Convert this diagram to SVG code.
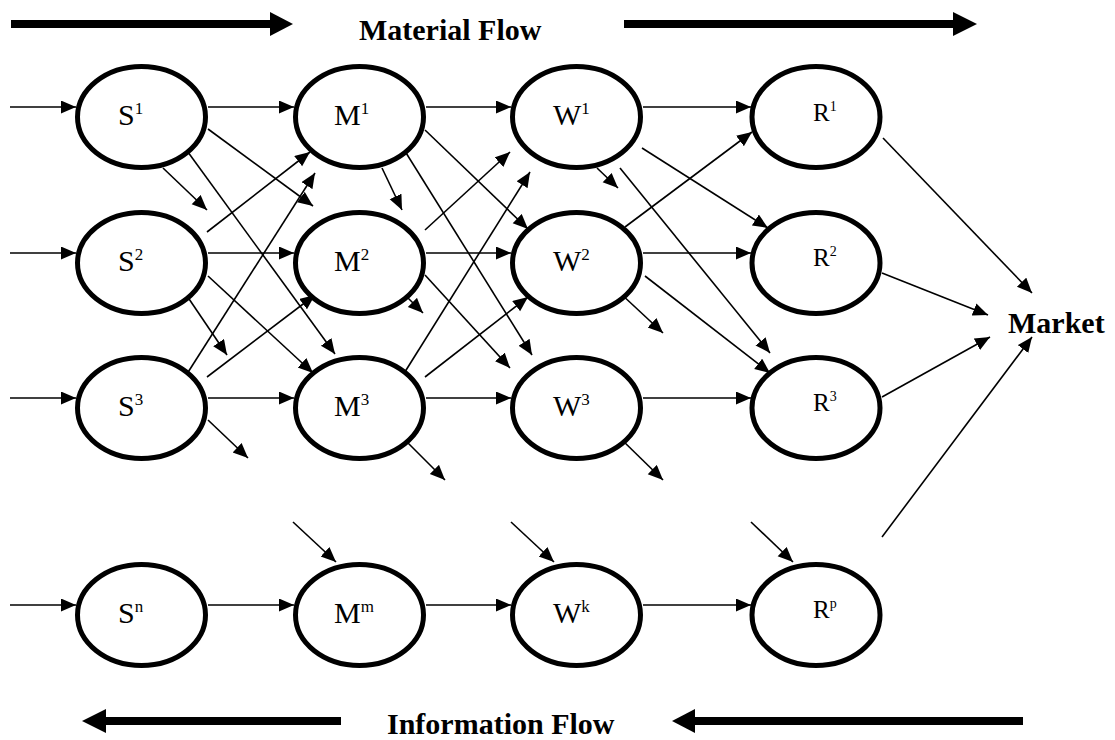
<svg xmlns="http://www.w3.org/2000/svg" width="1115" height="740" viewBox="0 0 1115 740">
<style>
.node ellipse{fill:#fff;stroke:#000;stroke-width:5}
.lbl{font-family:"Liberation Serif","Times New Roman",serif;font-size:30px;fill:#000}
.rl{font-family:"Liberation Serif","Times New Roman",serif;font-size:25px;fill:#000}
.title{font-family:"Liberation Serif","Times New Roman",serif;font-size:30px;font-weight:bold;fill:#000}
#connectors line{stroke:#000;stroke-width:1.6;marker-end:url(#ah)}
.big{fill:#000}
</style>
<defs>
<marker id="ah" markerUnits="userSpaceOnUse" markerWidth="16" markerHeight="14" refX="15" refY="6.5" orient="auto">
<path d="M0,0 L15,6.5 L0,13 z" fill="#000"/>
</marker>
</defs>
<rect width="1115" height="740" fill="#fff"/>

<g id="flow-arrows">
<rect class="big" x="11" y="20" width="262" height="8"/>
<polygon class="big" points="270,12 293,24 270,36"/>
<rect class="big" x="624" y="20" width="332" height="8"/>
<polygon class="big" points="953,12 977,24 953,36"/>
<rect class="big" x="104" y="717" width="237" height="8"/>
<polygon class="big" points="106,709 82,721 106,733"/>
<rect class="big" x="692" y="717" width="331" height="8"/>
<polygon class="big" points="695,709 672,721 695,733"/>
</g>
<text id="material-flow" class="title" x="359" y="40">Material Flow</text>
<text id="information-flow" class="title" x="387" y="734">Information Flow</text>
<text id="market" class="title" x="1008" y="333">Market</text>

<g id="connectors">
<!-- inputs -->
<line x1="10" y1="107" x2="76" y2="107"/>
<line x1="10" y1="253" x2="76" y2="253"/>
<line x1="10" y1="398" x2="76" y2="398"/>
<line x1="10" y1="605" x2="76" y2="605"/>
<!-- S to M horizontal -->
<line x1="208" y1="107" x2="294" y2="107"/>
<line x1="208" y1="253" x2="294" y2="253"/>
<line x1="208" y1="398" x2="294" y2="398"/>
<line x1="208" y1="605" x2="294" y2="605"/>
<!-- M to W horizontal -->
<line x1="426" y1="107" x2="511" y2="107"/>
<line x1="426" y1="253" x2="511" y2="253"/>
<line x1="426" y1="398" x2="511" y2="398"/>
<line x1="426" y1="605" x2="511" y2="605"/>
<!-- W to R horizontal -->
<line x1="643" y1="107" x2="751" y2="107"/>
<line x1="643" y1="253" x2="751" y2="253"/>
<line x1="643" y1="398" x2="751" y2="398"/>
<line x1="643" y1="605" x2="751" y2="605"/>
<!-- S diagonals -->
<line x1="163" y1="168" x2="207" y2="210"/>
<line x1="208" y1="129" x2="313" y2="206"/>
<line x1="185" y1="148" x2="335" y2="354"/>
<line x1="207" y1="232" x2="310" y2="152"/>
<line x1="185" y1="293" x2="227" y2="355"/>
<line x1="208" y1="276" x2="313" y2="373"/>
<line x1="185" y1="377" x2="315" y2="173"/>
<line x1="207" y1="377" x2="315" y2="295"/>
<line x1="208" y1="420" x2="248" y2="458"/>
<!-- M diagonals -->
<line x1="382" y1="168" x2="402" y2="210"/>
<line x1="425" y1="130" x2="528" y2="229"/>
<line x1="403" y1="148" x2="532" y2="355"/>
<line x1="425" y1="230" x2="510" y2="152"/>
<line x1="403" y1="293" x2="423" y2="313"/>
<line x1="425" y1="275" x2="510" y2="368"/>
<line x1="403" y1="375" x2="530" y2="172"/>
<line x1="425" y1="377" x2="528" y2="297"/>
<line x1="403" y1="438" x2="445" y2="480"/>
<!-- W diagonals -->
<line x1="597" y1="168" x2="618" y2="188"/>
<line x1="642" y1="148" x2="768" y2="228"/>
<line x1="620" y1="168" x2="770" y2="353"/>
<line x1="625" y1="227" x2="752" y2="132"/>
<line x1="620" y1="293" x2="663" y2="333"/>
<line x1="645" y1="276" x2="770" y2="373"/>
<line x1="620" y1="438" x2="663" y2="480"/>
<!-- into bottom row -->
<line x1="293" y1="522" x2="336" y2="562"/>
<line x1="511" y1="522" x2="554" y2="562"/>
<line x1="751" y1="522" x2="793" y2="562"/>
<!-- to market -->
<line x1="883" y1="138" x2="1032" y2="293"/>
<line x1="882" y1="273" x2="988" y2="315"/>
<line x1="882" y1="397" x2="990" y2="337"/>
<line x1="882" y1="537" x2="1032" y2="337"/>
</g>

<g id="S1" class="node"><ellipse cx="141.5" cy="117" rx="64" ry="50.5"/><text class="lbl" x="118" y="125">S<tspan dy="-11" font-size="17">1</tspan></text></g>
<g id="S2" class="node"><ellipse cx="141.5" cy="263" rx="64" ry="50.5"/><text class="lbl" x="118" y="271">S<tspan dy="-11" font-size="17">2</tspan></text></g>
<g id="S3" class="node"><ellipse cx="141.5" cy="408" rx="64" ry="50.5"/><text class="lbl" x="118" y="416">S<tspan dy="-11" font-size="17">3</tspan></text></g>
<g id="Sn" class="node"><ellipse cx="141.5" cy="615" rx="64" ry="50.5"/><text class="lbl" x="118" y="623">S<tspan dy="-11" font-size="17">n</tspan></text></g>

<g id="M1" class="node"><ellipse cx="359.5" cy="117" rx="64" ry="50.5"/><text class="lbl" x="334" y="125">M<tspan dy="-11" font-size="17">1</tspan></text></g>
<g id="M2" class="node"><ellipse cx="359.5" cy="263" rx="64" ry="50.5"/><text class="lbl" x="334" y="271">M<tspan dy="-11" font-size="17">2</tspan></text></g>
<g id="M3" class="node"><ellipse cx="359.5" cy="408" rx="64" ry="50.5"/><text class="lbl" x="334" y="416">M<tspan dy="-11" font-size="17">3</tspan></text></g>
<g id="Mm" class="node"><ellipse cx="359.5" cy="615" rx="64" ry="50.5"/><text class="lbl" x="334" y="623">M<tspan dy="-11" font-size="17">m</tspan></text></g>

<g id="W1" class="node"><ellipse cx="576.5" cy="117" rx="64" ry="50.5"/><text class="lbl" x="553" y="125">W<tspan dy="-11" font-size="17">1</tspan></text></g>
<g id="W2" class="node"><ellipse cx="576.5" cy="263" rx="64" ry="50.5"/><text class="lbl" x="553" y="271">W<tspan dy="-11" font-size="17">2</tspan></text></g>
<g id="W3" class="node"><ellipse cx="576.5" cy="408" rx="64" ry="50.5"/><text class="lbl" x="553" y="416">W<tspan dy="-11" font-size="17">3</tspan></text></g>
<g id="Wk" class="node"><ellipse cx="576.5" cy="615" rx="64" ry="50.5"/><text class="lbl" x="553" y="623">W<tspan dy="-11" font-size="17">k</tspan></text></g>

<g id="R1" class="node"><ellipse cx="816" cy="117" rx="64" ry="50.5"/><text class="rl" x="813" y="121">R<tspan dy="-10" font-size="14">1</tspan></text></g>
<g id="R2" class="node"><ellipse cx="816" cy="263" rx="64" ry="50.5"/><text class="rl" x="813" y="266">R<tspan dy="-10" font-size="14">2</tspan></text></g>
<g id="R3" class="node"><ellipse cx="816" cy="408" rx="64" ry="50.5"/><text class="rl" x="813" y="411">R<tspan dy="-10" font-size="14">3</tspan></text></g>
<g id="Rp" class="node"><ellipse cx="816" cy="615" rx="64" ry="50.5"/><text class="rl" x="813" y="618">R<tspan dy="-10" font-size="14">p</tspan></text></g>
</svg>
